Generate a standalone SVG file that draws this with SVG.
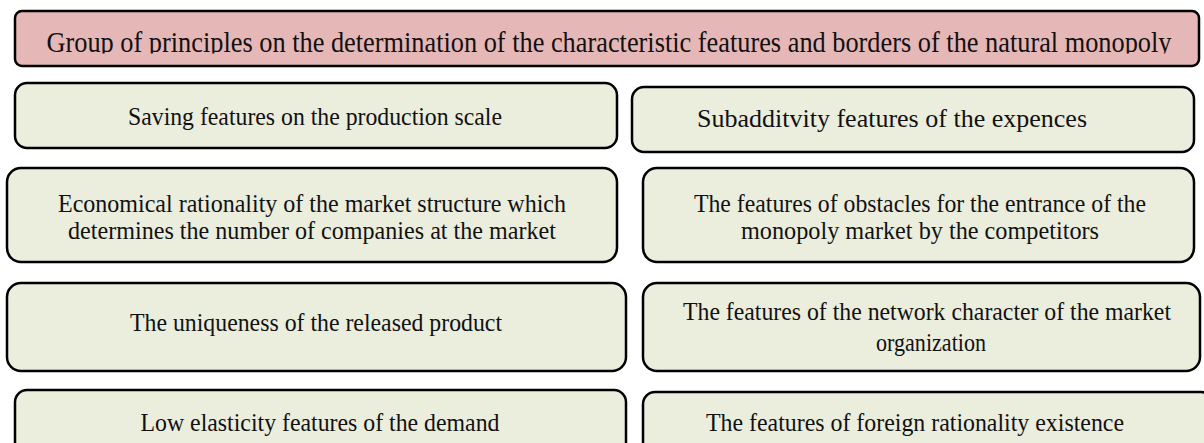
<svg xmlns="http://www.w3.org/2000/svg" width="1204" height="443" viewBox="0 0 1204 443">
<style>
.box{fill:#ebeddd;stroke:#000;stroke-width:2.5}
.head{fill:#e6b7b7;stroke:#000;stroke-width:2.5}
text{font-family:"Liberation Serif","Times New Roman",serif;font-size:26px;fill:#111;text-anchor:middle}
.h{font-size:29px}
.s{font-size:24.5px}
</style>
<defs>
<clipPath id="hc"><rect x="15" y="11" width="1184" height="42.5"/></clipPath>
</defs>
<g id="header">
<rect class="head" x="15" y="11" width="1184" height="55" rx="7"/>
<text class="h" x="609" y="52" textLength="1125" lengthAdjust="spacingAndGlyphs" clip-path="url(#hc)">Group of principles on the determination of the characteristic features and borders of the natural monopoly</text>
</g>
<g id="n1">
<rect class="box" x="15" y="83" width="602" height="65" rx="12"/>
<text x="315" y="125" textLength="374" lengthAdjust="spacingAndGlyphs">Saving features on the production scale</text>
</g>
<g id="n2">
<rect class="box" x="632" y="87" width="562" height="65" rx="12"/>
<text x="892" y="127" textLength="390" lengthAdjust="spacingAndGlyphs">Subadditvity features of the expences</text>
</g>
<g id="n3">
<rect class="box" x="7" y="168" width="610" height="94" rx="14"/>
<text x="312" y="212" textLength="508" lengthAdjust="spacingAndGlyphs">Economical rationality of the market structure which</text>
<text x="312" y="239" textLength="488" lengthAdjust="spacingAndGlyphs">determines the number of companies at the market</text>
</g>
<g id="n4">
<rect class="box" x="643" y="168" width="551" height="94" rx="14"/>
<text x="920" y="212" textLength="452" lengthAdjust="spacingAndGlyphs">The features of obstacles for the entrance of the</text>
<text x="920" y="239" textLength="358" lengthAdjust="spacingAndGlyphs">monopoly market by the competitors</text>
</g>
<g id="n5">
<rect class="box" x="7" y="283" width="619" height="88" rx="14"/>
<text x="316" y="331" textLength="372" lengthAdjust="spacingAndGlyphs">The uniqueness of the released product</text>
</g>
<g id="n6">
<rect class="box" x="643" y="283" width="557" height="88" rx="14"/>
<text class="s" x="927" y="320" textLength="488" lengthAdjust="spacingAndGlyphs">The features of the network character of the market</text>
<text x="931" y="351" textLength="110" lengthAdjust="spacingAndGlyphs">organization</text>
</g>
<g id="n7">
<rect class="box" x="15" y="390" width="611" height="70" rx="12"/>
<text x="320" y="431" textLength="359" lengthAdjust="spacingAndGlyphs">Low elasticity features of the demand</text>
</g>
<g id="n8">
<rect class="box" x="643" y="392" width="570" height="70" rx="12"/>
<text x="915" y="431" textLength="418" lengthAdjust="spacingAndGlyphs">The features of foreign rationality existence</text>
</g>
<g id="connectors"/>
</svg>
